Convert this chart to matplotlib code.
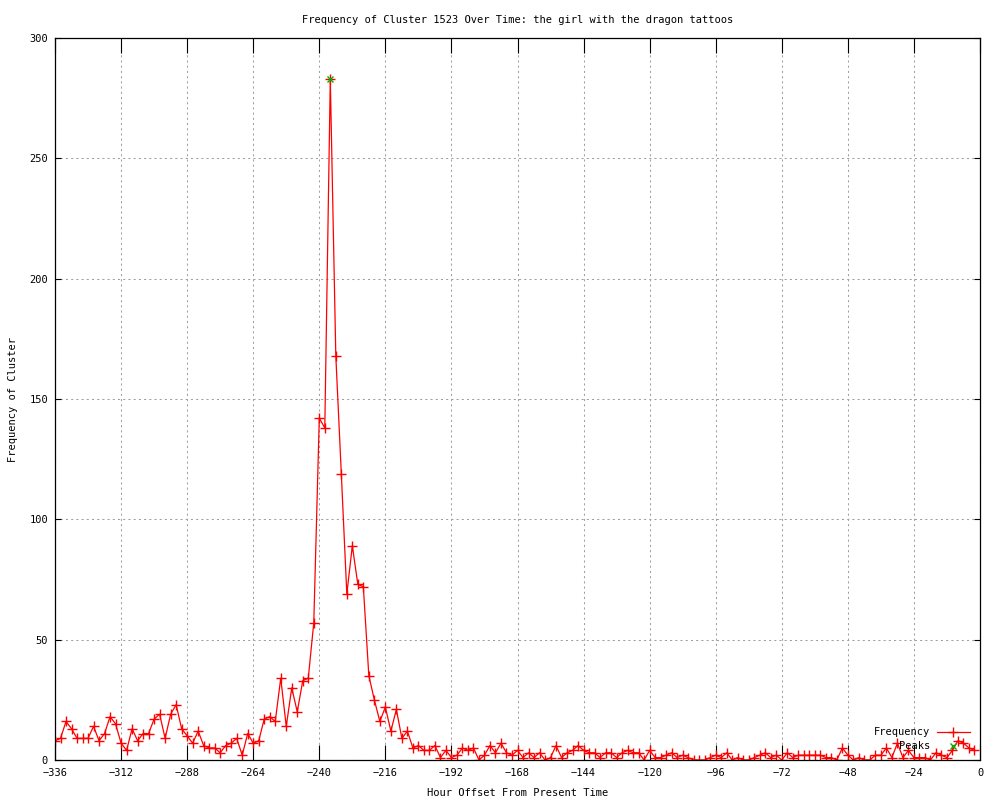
import matplotlib
matplotlib.use("Agg")
import matplotlib.pyplot as plt
from matplotlib.lines import Line2D

# frequency of the cluster every two hours, from -336 h to -2 h
hours = list(range(-336, 0, 2))
freq = [8, 9, 16, 13, 9, 9, 9, 14, 8, 11, 18, 15, 7, 4, 13, 8, 11, 11, 17, 19,
        9, 19, 23, 13, 10, 7, 12, 6, 5, 5, 3, 6, 7, 9, 2, 11, 7, 8, 17, 18,
        16, 34, 14, 30, 20, 33, 34, 57, 142, 138, 283, 168, 119, 69, 89, 73, 72, 35, 25, 16,
        22, 12, 21, 9, 12, 5, 6, 4, 4, 6, 1, 4, 1, 2, 5, 4, 5, 0, 2, 6,
        3, 7, 3, 2, 4, 1, 3, 1, 3, 0, 1, 6, 1, 3, 4, 6, 4, 3, 3, 1,
        3, 3, 1, 3, 4, 3, 3, 0, 4, 1, 1, 2, 3, 1, 2, 1, 0, 0, 0, 1,
        2, 1, 3, 0, 1, 0, 0, 1, 2, 3, 1, 2, 0, 3, 1, 2, 2, 2, 2, 2,
        1, 1, 0, 5, 2, 0, 1, 0, 0, 2, 2, 5, 1, 7, 1, 4, 1, 1, 1, 0,
        3, 2, 1, 4, 8, 7, 5, 4]

peak_hours = [-236]
peak_freq = [283]

xticks = list(range(-336, 1, 24))
yticks = list(range(0, 301, 50))

plt.rcParams['font.family'] = ['DejaVu Sans Mono']
plt.rcParams['font.size'] = 7.5

fig = plt.figure(figsize=(10, 8), dpi=100)
ax = fig.add_axes([0.055, 0.05, 0.925, 0.9025])

ax.plot(hours, freq, color='red', lw=0.9, marker='+', ms=7, mew=1)
ax.plot(peak_hours, peak_freq, ls='none', color='#00b000', marker='x', ms=5, mew=1)

ax.set_xlim(-336, 0)
ax.set_ylim(0, 300)
ax.set_xticks(xticks)
ax.set_yticks(yticks)
ax.grid(True, color='#a0a0a0', lw=0.75, ls=(0, (2, 3)))
ax.tick_params(axis='x', direction='in', length=11, width=0.8, top=True, pad=6)
ax.tick_params(axis='y', direction='in', length=4, width=0.8, right=True, pad=5)
for s in ax.spines.values():
    s.set_linewidth(0.9)

ax.set_title('Frequency of Cluster 1523 Over Time: the girl with the dragon tattoos',
             fontsize=7.5, pad=11)
ax.set_xlabel('Hour Offset From Present Time', labelpad=7)
ax.set_ylabel('Frequency of Cluster', labelpad=8)

# gnuplot style key, text right justified before the sample
tr = ax.transAxes
ax.text(0.946, 0.0388, 'Frequency', transform=tr, ha='right', va='center')
ax.text(0.946, 0.0194, 'Peaks', transform=tr, ha='right', va='center')
ax.add_line(Line2D([0.9535, 0.989], [0.0388, 0.0388], transform=tr, color='red', lw=0.9))
ax.add_line(Line2D([0.9713], [0.0388], transform=tr, color='red', marker='+', ms=7, mew=1))
ax.add_line(Line2D([0.9713], [0.0194], transform=tr, color='#00b000', marker='x', ms=5, mew=1))

fig.savefig('out.png', dpi=100)
